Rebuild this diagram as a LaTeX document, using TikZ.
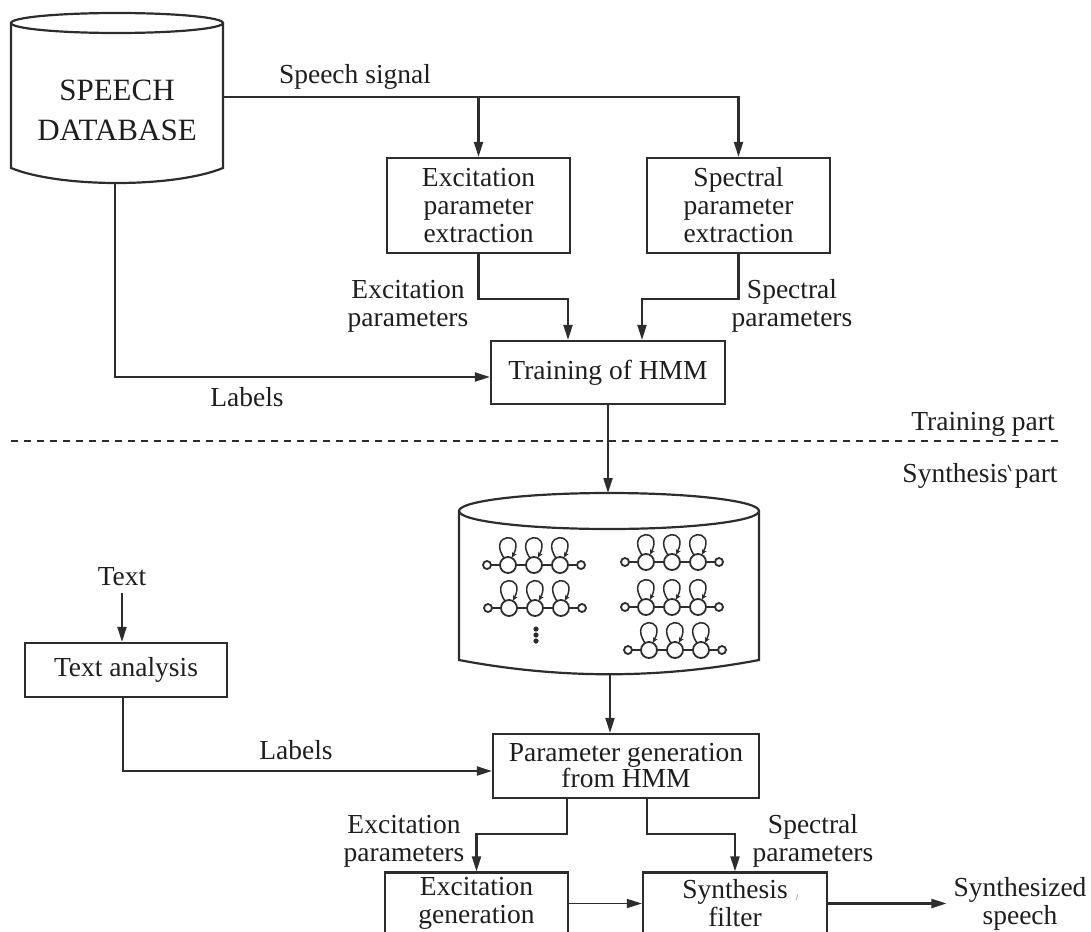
\documentclass[tikz,border=0pt]{standalone}
\usepackage{fontspec}
\setmainfont{Liberation Serif}
\usetikzlibrary{arrows.meta}
\definecolor{ink}{RGB}{45,45,45}
\definecolor{txt}{RGB}{30,30,30}

\tikzset{
  hmm/.pic={
    \begin{scope}[line width=0.9pt]
      \draw (-21,0) circle[radius=2pt];
      \draw (-17,0) -- (-8,0);
      \foreach \c in {0,26,52} {
        \draw (\c,0) circle[radius=4pt];
        \draw[line width=0.75pt,-{Stealth[length=2.6pt,width=2.6pt]}]
          (\c-4,-7) .. controls (\c-21,-32) and (\c+18,-35) .. (\c+4,-7.5);
      }
      \draw (8,0) -- (18,0);
      \draw (34,0) -- (44,0);
      \draw (60,0) -- (69,0);
      \draw (73,0) circle[radius=2pt];
    \end{scope}
  }
}

\begin{document}
\begin{tikzpicture}[x=0.5pt,y=-0.5pt,
  color=ink, text=txt, line width=1.1pt,
  font=\fontsize{13.75}{14}\selectfont,
  arr/.style={-{Triangle[length=7.5pt,width=4.5pt]}},
  box/.style={draw, rectangle, align=center, inner sep=0pt},
  lbl/.style={align=center, inner sep=3pt},
  sep/.style={line width=0.8pt, dash pattern=on 3.5pt off 3pt}]

\useasboundingbox (0,0) rectangle (1091,931);
\clip (0,0) rectangle (1091,931);

% ---------- speech database ----------
\draw (117,23) ellipse [x radius=53pt, y radius=5pt];
\draw (11,23) -- (11,168) .. controls (60,188) and (174,188) .. (223,168) -- (223,23);
\node[font=\fontsize{15.5}{20}\selectfont, align=center] (db) at (117,110) {SPEECH\\DATABASE};
\coordinate (dbout) at (223,97);
\coordinate (dbbot) at (115,183);

% ---------- analysis ----------
\node[box, minimum width=91.5pt, minimum height=47.5pt] (xex) at (478.5,205.5) {Excitation\\parameter\\extraction};
\node[box, minimum width=91.5pt, minimum height=47.5pt] (spx) at (738.5,205.5) {Spectral\\parameter\\extraction};
\node[box, minimum width=117pt, minimum height=31.5pt] (train) at (608,372.5) {Training of HMM};

\node[lbl] (sig) at (355,77) {Speech signal};
\draw[arr] (dbout) -| (spx.north);
\draw[arr] (dbout -| xex.north) -- (xex.north);

\draw[arr] (xex.south) -- ++(0,45) -| ([xshift=-20pt]train.north);
\draw[arr] (spx.south) -- ++(0,45) -| ([xshift=17pt]train.north);
\node[lbl] (exlab) at (408,306) {Excitation\\parameters};
\node[lbl] (splab) at (792,306) {Spectral\\parameters};

\draw[arr] (dbbot) |- ([yshift=-2.25pt]train.west);
\node[lbl] (lab1) at (247,397) {Labels};

% ---------- separator ----------
\coordinate (dl) at (11,441);
\coordinate (dr) at (1060,441);
\draw[sep] (dl) -- (dr);
\node[lbl] (tpart) at (983,424) {Training part};
\node[lbl] (spart) at (980,476) {Synthesis part};
\draw[line width=0.6pt] (1008,465) -- (1011,471);

% ---------- model database ----------
\coordinate (mtop) at (609,493);
\coordinate (mbot) at (610,674);
\draw (609,511) ellipse [x radius=75pt, y radius=9pt];
\draw (459,511) -- (459,660) .. controls (559,679) and (659,679) .. (759,660) -- (759,511);
\draw[arr] (train.south) -- (train.south |- mtop);

\pic at (508,565) {hmm};
\pic at (509,608) {hmm};
\pic at (646,562) {hmm};
\pic at (646,607) {hmm};
\pic at (649,650) {hmm};
\foreach \yy in {629,635,641} \fill (536,\yy) circle[radius=1.3pt];

% ---------- synthesis ----------
\node[lbl] (txtin) at (122,577) {Text};
\node[box, minimum width=101pt, minimum height=27pt] (ta) at (126,670) {Text analysis};
\draw[arr] (txtin.south) -- (txtin.south |- ta.north);

\node[box, minimum width=133pt, minimum height=32pt, font=\fontsize{13.75}{13}\selectfont] (pg) at (626,766) {Parameter generation\\from HMM};
\draw[arr] ([xshift=-1.5pt]ta.south) |- ([yshift=-2.5pt]pg.west);
\node[lbl] (lab2) at (296,750) {Labels};
\draw[arr] (mbot) -- (mbot |- pg.north);

\node[box, minimum width=91.5pt, minimum height=31pt] (exg) at (476.5,903.5) {Excitation\\generation};
\node[box, minimum width=92pt, minimum height=31pt] (sf) at (735,903.5) {Synthesis\\filter};
\draw[arr] ([xshift=-29.5pt]pg.south) -- ++(0,35) -| (exg.north);
\draw[arr] ([xshift=10.5pt]pg.south) -- ++(0,35) -| (sf.north);
\node[lbl] (exlab2) at (404,841) {Excitation\\parameters};
\node[lbl] (splab2) at (813,841) {Spectral\\parameters};

\draw[arr, line width=0.8pt] (exg.east) -- (sf.west);
\node[lbl] (out) at (1020,904) {Synthesized\\speech};
\draw[arr] (sf.east) -- (out.west |- sf.east);
\draw[line width=0.4pt, color=gray!60] (796,900) -- (798,894);

\end{tikzpicture}
\end{document}
